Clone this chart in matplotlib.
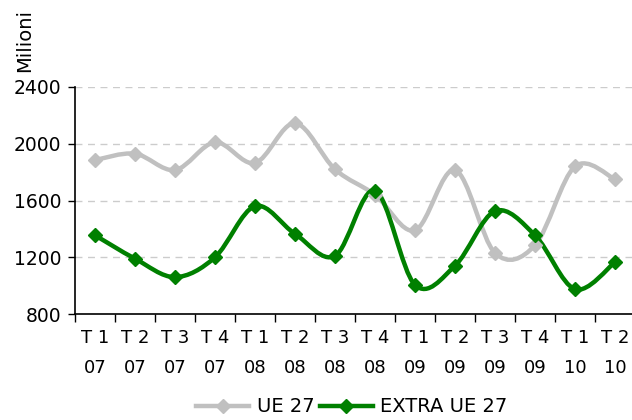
import numpy as np
import matplotlib.pyplot as plt
from matplotlib.path import Path
from matplotlib.patches import PathPatch
from matplotlib.lines import Line2D

# dati trimestrali (milioni)
trimestri = ['T 1', 'T 2', 'T 3', 'T 4', 'T 1', 'T 2', 'T 3', 'T 4',
             'T 1', 'T 2', 'T 3', 'T 4', 'T 1', 'T 2']
anni = ['07', '07', '07', '07', '08', '08', '08', '08',
        '09', '09', '09', '09', '10', '10']
ue27 = [1885, 1930, 1815, 2010, 1865, 2145, 1820, 1640,
        1390, 1815, 1230, 1285, 1840, 1750]
extra_ue27 = [1355, 1190, 1060, 1200, 1560, 1365, 1210, 1670,
              1005, 1140, 1525, 1355, 975, 1165]

grigio = '#c0c0c0'
verde = '#008000'


def curva_smussata(x, y):
    # bezier tipo "linea smussata" di Excel
    x = np.asarray(x, float)
    y = np.asarray(y, float)
    verts = [(x[0], y[0])]
    codes = [Path.MOVETO]
    n = len(x)
    for i in range(n - 1):
        x0, y0 = (x[i - 1], y[i - 1]) if i > 0 else (x[i], y[i])
        x3, y3 = (x[i + 2], y[i + 2]) if i + 2 < n else (x[i + 1], y[i + 1])
        c1 = (x[i] + (x[i + 1] - x0) / 6, y[i] + (y[i + 1] - y0) / 6)
        c2 = (x[i + 1] - (x3 - x[i]) / 6, y[i + 1] - (y3 - y[i]) / 6)
        verts += [c1, c2, (x[i + 1], y[i + 1])]
        codes += [Path.CURVE4] * 3
    return Path(verts, codes)


fig = plt.figure(figsize=(6.32, 4.2), dpi=100)
ax = fig.add_axes([75 / 632, 1 - 314 / 420, 560 / 632, 227 / 420])

xs = np.arange(len(trimestri))
for serie, col in [(ue27, grigio), (extra_ue27, verde)]:
    ax.add_patch(PathPatch(curva_smussata(xs, serie), facecolor='none',
                           edgecolor=col, lw=3.2, capstyle='round',
                           joinstyle='round', zorder=3))
    ax.plot(xs, serie, ls='none', marker='D', ms=7.5, color=col, zorder=4)

ax.set_xlim(-0.5, len(trimestri) - 0.5)
ax.set_ylim(800, 2400)
ax.set_yticks([800, 1200, 1600, 2000, 2400])
ax.yaxis.grid(True, color='#cccccc', ls=(0, (5, 4)), lw=1)
ax.set_axisbelow(True)

ax.set_xticks(xs)
ax.set_xticklabels([t + '\n' + a for t, a in zip(trimestri, anni)],
                   linespacing=1.85)
ax.set_xticks(np.arange(-0.5, len(trimestri)), minor=True)
ax.tick_params(axis='x', which='major', length=0, pad=11, labelsize=13)
ax.tick_params(axis='x', which='minor', length=6, width=1, color='black')
ax.tick_params(axis='y', length=5, width=1, labelsize=13.5, pad=5)

for s in ['top', 'right']:
    ax.spines[s].set_visible(False)
ax.spines['left'].set_linewidth(1.2)
ax.spines['bottom'].set_linewidth(1.2)

fig.text(25 / 632, 1 - 40 / 420, 'Milioni', rotation=90, fontsize=14,
         ha='center', va='center')

maniglie = [Line2D([], [], color=grigio, lw=3.2, marker='D', ms=7.5),
            Line2D([], [], color=verde, lw=3.2, marker='D', ms=7.5)]
fig.legend(maniglie, ['UE 27', 'EXTRA UE 27'], loc='center',
           bbox_to_anchor=(352 / 632, 1 - 407 / 420), ncol=2, frameon=False,
           fontsize=14, handlelength=2.7, columnspacing=0.3, handletextpad=0.4)

fig.savefig('out.png', dpi=100)
